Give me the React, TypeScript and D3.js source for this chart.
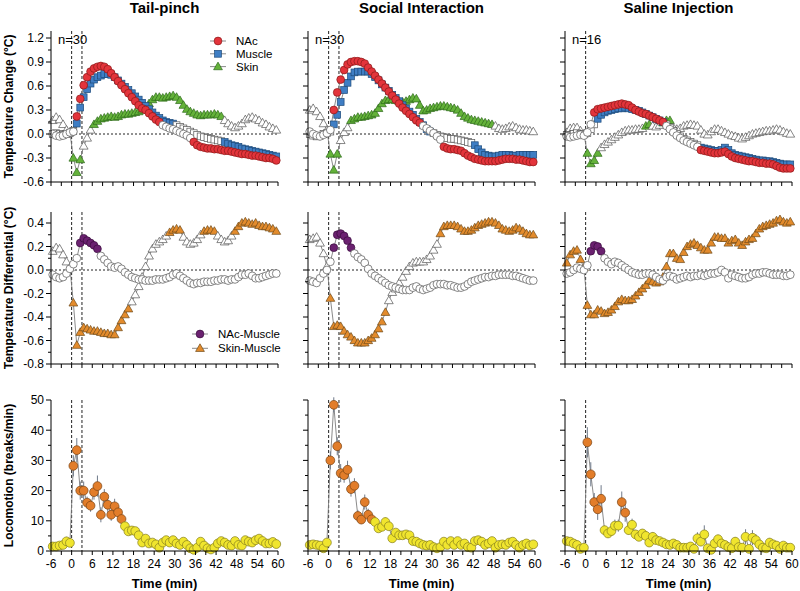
import React from 'react';
import * as d3 from 'd3';

// ---------------- DATA ----------------
const TIME = [
  -5.5, -4.5, -3.5, -2.5, -1.5, -0.5, 0.5, 1.5, 2.5, 3.5,
  4.5, 5.5, 6.5, 7.5, 8.5, 9.5, 10.5, 11.5, 12.5, 13.5,
  14.5, 15.5, 16.5, 17.5, 18.5, 19.5, 20.5, 21.5, 22.5, 23.5,
  24.5, 25.5, 26.5, 27.5, 28.5, 29.5, 30.5, 31.5, 32.5, 33.5,
  34.5, 35.5, 36.5, 37.5, 38.5, 39.5, 40.5, 41.5, 42.5, 43.5,
  44.5, 45.5, 46.5, 47.5, 48.5, 49.5, 50.5, 51.5, 52.5, 53.5,
  54.5, 55.5, 56.5, 57.5, 58.5, 59.5,
];

const CONDITIONS = ['Tail-pinch', 'Social Interaction', 'Saline Injection'];
const N_LABELS = ['n=30', 'n=30', 'n=16'];
const EVENT_TIMES = [[0, 3], [0, 3], [0]];
const X_TICKS = [-6, -3, 0, 3, 6, 9, 12, 15, 18, 21, 24, 27, 30, 33, 36, 39, 42, 45, 48, 51, 54, 57, 60];
const X_LABELS = [-6, 0, 6, 12, 18, 24, 30, 36, 42, 48, 54, 60];
const TEMP_TICKS = [-0.6, -0.3, 0, 0.3, 0.6, 0.9, 1.2];
const DIFF_TICKS = [-0.8, -0.6, -0.4, -0.2, 0, 0.2, 0.4];
const LOCO_TICKS = [0, 10, 20, 30, 40, 50];
const TEMP_LEGEND = ['NAc', 'Muscle', 'Skin'];
const DIFF_LEGEND = ['NAc-Muscle', 'Skin-Muscle'];

// Temperature change (°C) — Tail-pinch
const NAC_TP = [
  0.00, -0.02, -0.03, -0.02, 0.00, 0.02, 0.03, 0.22, 0.44, 0.61,
  0.71, 0.78, 0.82, 0.84, 0.85, 0.84, 0.81, 0.76, 0.71, 0.66,
  0.61, 0.56, 0.51, 0.46, 0.41, 0.36, 0.32, 0.30, 0.26, 0.22,
  0.18, 0.15, 0.11, 0.09, 0.07, 0.06, 0.04, 0.02, 0.00, -0.02,
  -0.05, -0.10, -0.14, -0.16, -0.17, -0.18, -0.18, -0.19, -0.19, -0.20,
  -0.21, -0.21, -0.22, -0.23, -0.24, -0.25, -0.25, -0.26, -0.27, -0.27,
  -0.28, -0.29, -0.30, -0.30, -0.31, -0.33,
];
const MUSCLE_TP = [
  0.00, 0.01, 0.00, -0.01, 0.00, 0.01, 0.04, 0.13, 0.33, 0.46,
  0.56, 0.63, 0.68, 0.71, 0.73, 0.75, 0.75, 0.74, 0.71, 0.67,
  0.63, 0.59, 0.55, 0.51, 0.47, 0.43, 0.39, 0.35, 0.31, 0.27,
  0.23, 0.20, 0.17, 0.15, 0.14, 0.13, 0.11, 0.09, 0.07, 0.05,
  0.03, 0.01, -0.01, -0.03, -0.04, -0.05, -0.06, -0.07, -0.08, -0.09,
  -0.10, -0.12, -0.14, -0.15, -0.16, -0.18, -0.19, -0.20, -0.21, -0.22,
  -0.23, -0.24, -0.25, -0.26, -0.27, -0.28,
];
const SKIN_TP = [
  0.17, 0.21, 0.18, 0.12, 0.05, 0.02, -0.30, -0.48, -0.32, -0.15,
  -0.05, 0.05, 0.12, 0.16, 0.19, 0.20, 0.21, 0.22, 0.21, 0.22,
  0.24, 0.25, 0.25, 0.26, 0.27, 0.28, 0.30, 0.33, 0.38, 0.43,
  0.46, 0.46, 0.45, 0.46, 0.47, 0.48, 0.46, 0.42, 0.36, 0.31,
  0.28, 0.26, 0.24, 0.23, 0.24, 0.24, 0.24, 0.25, 0.24, 0.22,
  0.17, 0.13, 0.10, 0.08, 0.10, 0.13, 0.18, 0.20, 0.21, 0.19,
  0.17, 0.14, 0.12, 0.09, 0.07, 0.05,
];
// Social interaction
const NAC_SI = [
  0.03, 0.00, -0.02, -0.03, -0.01, 0.01, 0.05, 0.30, 0.52, 0.68,
  0.80, 0.87, 0.90, 0.91, 0.91, 0.90, 0.88, 0.83, 0.78, 0.73,
  0.68, 0.63, 0.58, 0.53, 0.48, 0.43, 0.38, 0.33, 0.29, 0.25,
  0.21, 0.17, 0.14, 0.10, 0.07, 0.04, 0.01, -0.03, -0.07, -0.16,
  -0.18, -0.19, -0.19, -0.20, -0.21, -0.24, -0.27, -0.29, -0.31, -0.32,
  -0.33, -0.34, -0.34, -0.34, -0.34, -0.33, -0.32, -0.31, -0.31, -0.31,
  -0.32, -0.32, -0.33, -0.34, -0.35, -0.35,
];
const MUSCLE_SI = [
  0.00, -0.02, -0.03, -0.02, 0.00, 0.01, 0.03, 0.12, 0.24, 0.40,
  0.55, 0.64, 0.72, 0.77, 0.78, 0.78, 0.78, 0.78, 0.75, 0.71,
  0.67, 0.62, 0.58, 0.54, 0.49, 0.45, 0.41, 0.36, 0.32, 0.28,
  0.24, 0.19, 0.15, 0.11, 0.06, 0.03, 0.01, -0.01, -0.03, -0.04,
  -0.05, -0.06, -0.06, -0.07, -0.08, -0.09, -0.10, -0.11, -0.14, -0.19,
  -0.23, -0.26, -0.27, -0.28, -0.28, -0.27, -0.26, -0.26, -0.26, -0.27,
  -0.27, -0.26, -0.26, -0.26, -0.26, -0.26,
];
const SKIN_SI = [
  0.30, 0.32, 0.28, 0.22, 0.13, 0.05, -0.25, -0.45, -0.25, -0.08,
  0.02, 0.08, 0.17, 0.19, 0.21, 0.21, 0.22, 0.23, 0.24, 0.26,
  0.32, 0.38, 0.42, 0.43, 0.43, 0.42, 0.41, 0.40, 0.41, 0.43,
  0.45, 0.44, 0.36, 0.29, 0.30, 0.32, 0.33, 0.34, 0.35, 0.35,
  0.34, 0.33, 0.32, 0.30, 0.26, 0.22, 0.20, 0.18, 0.17, 0.16,
  0.15, 0.14, 0.13, 0.12, 0.10, 0.07, 0.06, 0.07, 0.09, 0.10,
  0.08, 0.06, 0.05, 0.05, 0.04, 0.03,
];
// Saline injection
const NAC_SAL = [
  -0.03, -0.04, -0.03, -0.02, -0.01, -0.02, 0.02, 0.12, 0.27, 0.31,
  0.32, 0.33, 0.34, 0.35, 0.36, 0.37, 0.38, 0.37, 0.36, 0.33,
  0.30, 0.28, 0.26, 0.25, 0.23, 0.21, 0.19, 0.17, 0.15, 0.10,
  0.06, 0.02, -0.02, -0.05, -0.08, -0.10, -0.12, -0.14, -0.16, -0.20,
  -0.21, -0.22, -0.23, -0.24, -0.24, -0.23, -0.22, -0.25, -0.28, -0.30,
  -0.31, -0.32, -0.33, -0.34, -0.34, -0.35, -0.36, -0.36, -0.37, -0.37,
  -0.38, -0.40, -0.42, -0.43, -0.43, -0.43,
];
const MUSCLE_SAL = [
  -0.01, -0.02, 0.00, 0.01, 0.00, 0.00, 0.01, 0.06, 0.12, 0.19,
  0.24, 0.27, 0.29, 0.30, 0.31, 0.32, 0.32, 0.33, 0.32, 0.31,
  0.30, 0.29, 0.27, 0.25, 0.23, 0.21, 0.19, 0.17, 0.15, 0.12,
  0.08, 0.04, 0.00, -0.03, -0.06, -0.08, -0.10, -0.12, -0.14, -0.17,
  -0.18, -0.19, -0.20, -0.21, -0.21, -0.20, -0.17, -0.20, -0.24, -0.26,
  -0.27, -0.28, -0.29, -0.30, -0.31, -0.32, -0.33, -0.33, -0.34, -0.34,
  -0.35, -0.36, -0.37, -0.38, -0.38, -0.38,
];
const SKIN_SAL = [
  0.02, 0.07, 0.08, 0.08, 0.04, 0.00, -0.24, -0.37, -0.33, -0.24,
  -0.17, -0.13, -0.10, -0.07, -0.04, -0.01, 0.02, 0.04, 0.05, 0.05,
  0.06, 0.06, 0.07, 0.10, 0.12, 0.10, 0.09, 0.11, 0.14, 0.17,
  0.17, 0.08, 0.06, 0.07, 0.10, 0.11, 0.12, 0.11, 0.10, 0.05,
  0.00, -0.01, 0.03, 0.06, 0.06, 0.04, 0.02, 0.00, -0.02, -0.03,
  -0.05, -0.06, -0.04, -0.02, 0.00, 0.01, 0.02, 0.03, 0.04, 0.04,
  0.05, 0.06, 0.05, 0.03, 0.01, 0.00,
];

// Temperature differential (°C)
const NM_TP = [
  -0.04, -0.06, -0.07, -0.06, -0.03, 0.01, 0.05, 0.10, 0.23, 0.27,
  0.25, 0.23, 0.21, 0.18, 0.12, 0.09, 0.06, 0.03, 0.02, 0.03,
  0.01, -0.02, -0.04, -0.06, -0.07, -0.08, -0.08, -0.09, -0.09, -0.09,
  -0.08, -0.08, -0.08, -0.07, -0.06, -0.04, -0.03, -0.05, -0.07, -0.09,
  -0.11, -0.12, -0.11, -0.11, -0.10, -0.10, -0.10, -0.09, -0.09, -0.08,
  -0.08, -0.09, -0.08, -0.08, -0.06, -0.04, -0.04, -0.03, -0.05, -0.07,
  -0.07, -0.06, -0.05, -0.04, -0.03, -0.03,
];
const SM_TP = [
  0.16, 0.19, 0.18, 0.13, 0.07, 0.02, -0.28, -0.64, -0.53, -0.49,
  -0.50, -0.51, -0.52, -0.52, -0.53, -0.54, -0.54, -0.55, -0.55, -0.49,
  -0.43, -0.38, -0.33, -0.27, -0.21, -0.14, -0.06, 0.03, 0.12, 0.18,
  0.22, 0.24, 0.26, 0.29, 0.32, 0.34, 0.35, 0.34, 0.28, 0.24,
  0.22, 0.23, 0.26, 0.30, 0.33, 0.34, 0.34, 0.33, 0.29, 0.26,
  0.24, 0.25, 0.29, 0.33, 0.37, 0.40, 0.41, 0.40, 0.39, 0.40,
  0.38, 0.37, 0.37, 0.36, 0.35, 0.33,
];
const NM_SI = [
  -0.09, -0.10, -0.11, -0.07, -0.03, 0.00, 0.07, 0.19, 0.30, 0.31,
  0.29, 0.25, 0.19, 0.14, 0.11, 0.09, 0.06, 0.01, -0.03, -0.05,
  -0.07, -0.09, -0.11, -0.13, -0.14, -0.15, -0.16, -0.17, -0.17, -0.17,
  -0.15, -0.14, -0.16, -0.17, -0.16, -0.15, -0.13, -0.12, -0.12, -0.12,
  -0.13, -0.13, -0.14, -0.15, -0.15, -0.14, -0.12, -0.10, -0.09, -0.08,
  -0.07, -0.06, -0.06, -0.05, -0.05, -0.04, -0.04, -0.04, -0.04, -0.05,
  -0.05, -0.06, -0.07, -0.08, -0.09, -0.09,
];
const SM_SI = [
  0.26, 0.27, 0.28, 0.23, 0.14, 0.03, -0.24, -0.48, -0.47, -0.48,
  -0.52, -0.55, -0.57, -0.60, -0.62, -0.62, -0.62, -0.60, -0.58, -0.55,
  -0.50, -0.44, -0.36, -0.26, -0.19, -0.16, -0.11, -0.06, -0.01, 0.03,
  0.06, 0.07, 0.07, 0.07, 0.09, 0.12, 0.17, 0.22, 0.31, 0.37,
  0.38, 0.38, 0.38, 0.37, 0.35, 0.33, 0.33, 0.34, 0.36, 0.38,
  0.39, 0.40, 0.41, 0.41, 0.40, 0.38, 0.35, 0.34, 0.33, 0.34,
  0.36, 0.35, 0.33, 0.31, 0.30, 0.30,
];
const NM_SAL = [
  -0.03, -0.02, 0.00, 0.02, 0.01, 0.00, 0.04, 0.16, 0.21, 0.20,
  0.16, 0.10, 0.07, 0.05, 0.07, 0.06, 0.04, 0.02, 0.00, -0.02,
  -0.03, -0.04, -0.04, -0.03, -0.03, -0.04, -0.06, -0.08, -0.09, -0.06,
  -0.05, -0.06, -0.08, -0.07, -0.06, -0.05, -0.06, -0.05, -0.05, -0.04,
  -0.05, -0.04, -0.03, -0.03, -0.02, 0.00, -0.02, -0.07, -0.04, -0.05,
  -0.06, -0.07, -0.07, -0.06, -0.04, -0.03, -0.03, -0.02, -0.02, -0.03,
  -0.04, -0.04, -0.04, -0.05, -0.05, -0.04,
];
const SM_SAL = [
  0.06, 0.13, 0.16, 0.17, 0.09, 0.02, -0.30, -0.38, -0.38, -0.34,
  -0.35, -0.37, -0.36, -0.34, -0.31, -0.27, -0.25, -0.26, -0.26, -0.25,
  -0.22, -0.19, -0.16, -0.13, -0.09, -0.10, -0.11, -0.10, -0.06, 0.03,
  0.14, 0.14, 0.10, 0.09, 0.15, 0.20, 0.22, 0.23, 0.21, 0.19,
  0.17, 0.17, 0.23, 0.28, 0.28, 0.27, 0.27, 0.23, 0.25, 0.26,
  0.23, 0.21, 0.24, 0.26, 0.27, 0.31, 0.35, 0.37, 0.38, 0.39,
  0.40, 0.42, 0.43, 0.41, 0.40, 0.41,
];

// Locomotion (breaks/min) and SEM
const LOCO_TP = [
  1.5, 1.5, 1.8, 2.0, 3.2, 2.7, 28.2, 33.4, 20.0, 20.0,
  16.0, 15.0, 19.5, 21.5, 12.0, 18.0, 15.3, 12.0, 14.8, 12.8,
  10.6, 8.2, 6.5, 6.8, 6.6, 5.2, 2.8, 4.1, 2.5, 2.8,
  2.2, 1.1, 2.8, 3.6, 2.8, 3.6, 2.5, 2.0, 3.1, 2.0,
  0.9, 0.4, 1.1, 3.1, 1.8, 0.9, 0.5, 1.1, 2.5, 3.3,
  2.8, 2.0, 1.8, 3.3, 2.0, 1.8, 3.6, 3.1, 2.8, 3.6,
  4.1, 3.3, 2.5, 2.5, 3.0, 2.3,
];
const SEM_TP = [
  0.8, 0.8, 0.8, 0.9, 1.5, 1.2, 3.5, 4.0, 3.0, 3.0,
  2.0, 2.0, 2.5, 3.5, 2.5, 2.5, 2.5, 2.0, 2.5, 2.0,
  1.5, 1.2, 1.2, 1.2, 1.0, 1.0, 0.8, 1.0, 0.8, 0.8,
  0.8, 0.8, 1.0, 1.2, 1.0, 1.0, 0.8, 0.8, 1.2, 0.8,
  0.8, 0.6, 0.8, 1.2, 0.8, 0.6, 0.6, 0.8, 1.0, 1.2,
  1.0, 0.8, 0.8, 1.2, 0.8, 0.8, 1.0, 1.0, 0.8, 1.0,
  1.0, 1.0, 0.8, 0.8, 1.0, 0.8,
];
const LOCO_SI = [
  2.0, 2.2, 2.0, 1.8, 0.9, 2.8, 30.0, 48.4, 34.7, 25.8,
  25.1, 26.9, 20.5, 21.6, 11.6, 10.4, 16.2, 12.0, 10.5, 9.6,
  7.5, 8.0, 9.6, 8.2, 4.2, 6.1, 5.2, 5.2, 5.5, 5.2,
  3.3, 3.1, 2.5, 2.0, 1.8, 2.0, 1.3, 0.9, 1.3, 3.1,
  2.0, 3.3, 2.0, 3.3, 2.0, 2.5, 1.3, 1.1, 3.3, 3.6,
  3.1, 2.0, 2.5, 3.3, 1.1, 2.0, 2.2, 2.0, 2.8, 3.1,
  2.0, 1.1, 2.0, 2.5, 1.8, 2.2,
];
const SEM_SI = [
  0.8, 0.8, 0.8, 0.8, 0.6, 1.0, 3.0, 2.5, 3.0, 3.0,
  2.5, 3.0, 2.5, 2.5, 2.0, 1.5, 2.5, 2.0, 1.5, 1.5,
  1.2, 1.2, 1.5, 1.2, 1.0, 1.2, 1.0, 1.0, 1.2, 1.0,
  0.8, 0.8, 0.8, 0.6, 0.6, 0.8, 0.6, 0.6, 0.8, 1.2,
  0.8, 1.2, 0.8, 1.0, 0.8, 0.8, 0.6, 0.6, 1.0, 1.0,
  1.0, 0.8, 0.8, 1.0, 0.6, 0.8, 0.8, 0.8, 1.0, 1.0,
  0.8, 0.6, 0.8, 0.8, 0.8, 0.8,
];
const LOCO_SAL = [
  3.3, 3.1, 2.5, 2.0, 0.7, 1.1, 36.0, 25.4, 16.2, 13.8,
  17.3, 6.9, 5.8, 6.6, 8.4, 8.4, 16.2, 12.7, 6.9, 8.7,
  5.5, 4.7, 5.8, 5.0, 2.8, 4.7, 3.6, 3.3, 2.8, 2.2,
  2.0, 2.5, 2.0, 1.1, 1.1, 1.1, 1.5, 0.7, 4.2, 3.1,
  5.5, 0.9, 0.4, 2.5, 3.9, 2.5, 2.0, 1.3, 0.9, 3.1,
  1.3, 1.1, 4.7, 0.7, 4.4, 3.6, 2.2, 1.1, 0.9, 2.8,
  2.2, 1.8, 0.7, 1.8, 1.1, 1.1,
];
const SEM_SAL = [
  0.8, 0.8, 0.8, 0.8, 0.6, 0.8, 5.0, 4.0, 3.0, 3.5,
  4.5, 1.5, 1.5, 1.5, 2.0, 2.0, 3.5, 3.0, 1.5, 2.0,
  1.5, 1.2, 1.5, 1.5, 1.0, 1.5, 1.2, 1.0, 1.0, 0.8,
  0.8, 1.0, 0.8, 0.6, 0.6, 0.6, 0.8, 0.6, 2.0, 1.5,
  3.0, 0.6, 0.6, 1.2, 1.5, 1.2, 1.0, 0.8, 0.6, 1.5,
  0.8, 0.8, 2.5, 0.6, 2.5, 2.0, 1.2, 0.8, 0.6, 1.5,
  1.2, 1.0, 0.6, 1.0, 0.8, 0.8,
];

// Time windows (min) of significant (coloured) points
const SIG_NAC = [[[1.5, 25.5], [35.5, 59.5]], [[1.5, 26.5], [33.5, 59.5]], [[2.5, 22.5], [33.5, 59.5]]];
const SIG_MUSCLE = [[[1.5, 29.5], [44.5, 59.5]], [[1.5, 29.5], [42.5, 59.5]], [[3.5, 22.5], [33.5, 59.5]]];
const SIG_SKIN = [[[0.5, 2.5], [6.5, 43.5]], [[0.5, 2.5], [6.5, 47.5]], [[0.5, 3.5], [17.5, 18.5], [22.5, 24.5]]];
const SIG_NM = [[[2.5, 7.5]], [[1.5, 6.5]], [[1.5, 4.5]]];
const SIG_SM = [[[0.5, 16.5], [28.5, 31.5], [38.5, 41.5], [47.5, 59.5]], [[0.5, 16.5], [32.5, 59.5]], [[-5.5, 59.5]]];
const SIG_LOCO = [[[0.5, 14.5]], [[0.5, 12.5]], [[0.5, 4.5], [10.5, 11.5]]];

const NAC = [NAC_TP, NAC_SI, NAC_SAL];
const MUSCLE = [MUSCLE_TP, MUSCLE_SI, MUSCLE_SAL];
const SKIN = [SKIN_TP, SKIN_SI, SKIN_SAL];
const NM = [NM_TP, NM_SI, NM_SAL];
const SM = [SM_TP, SM_SI, SM_SAL];
const LOCO = [LOCO_TP, LOCO_SI, LOCO_SAL];
const SEM = [SEM_TP, SEM_SI, SEM_SAL];

// ---------------- STYLE ----------------
const FONT = "'Liberation Sans', Arial, Helvetica, sans-serif";
const WHITE = { fill: '#ffffff', stroke: '#555555' };
const STY = {
  nac: { fill: '#e3343b', stroke: '#8b1a1a' },
  muscle: { fill: '#3f7ec4', stroke: '#1d4a7a' },
  skin: { fill: '#64b23a', stroke: '#2d6a1a' },
  nm: { fill: '#6b2170', stroke: '#3a0d3d' },
  sm: { fill: '#e38b2c', stroke: '#6e4a1a' },
  locoSig: { fill: '#e27d2a', stroke: '#7a4412' },
  locoNs: { fill: '#f0e52e', stroke: '#857e1e' },
};

const inRanges = (t: number, ranges: number[][]) => ranges.some(([a, b]) => t >= a - 1e-6 && t <= b + 1e-6);
const triPath = (area: number) => d3.symbol(d3.symbolTriangle, area)() as string;

type Shape = 'circle' | 'square' | 'triangle';

function Marker({ shape, x, y, fill, stroke, size }: { shape: Shape; x: number; y: number; fill: string; stroke: string; size: number }) {
  if (shape === 'circle') return <circle cx={x} cy={y} r={size} fill={fill} stroke={stroke} strokeWidth={0.7} />;
  if (shape === 'square') return <rect x={x - size} y={y - size} width={2 * size} height={2 * size} fill={fill} stroke={stroke} strokeWidth={0.7} />;
  return <path d={triPath(size * size * 2.2)} transform={`translate(${x},${y + 0.6})`} fill={fill} stroke={stroke} strokeWidth={0.7} />;
}

type SeriesDef = { values: number[]; sig: number[][]; shape: Shape; size: number; on: { fill: string; stroke: string }; off: { fill: string; stroke: string }; sem?: number[] };

const COL_X: [number, number][] = [[51, 278], [308, 535], [565, 792]];
const ROWS = [
  { domain: [-0.6, 1.2], range: [182, 38], top: 31, ticks: TEMP_TICKS, minor: 0.15, fmt: (v: number) => v.toFixed(1), zero: true },
  { domain: [-0.8, 0.4], range: [364, 223], top: 212, ticks: DIFF_TICKS, minor: 0.1, fmt: (v: number) => v.toFixed(1), zero: true },
  { domain: [0, 50], range: [551, 400], top: 400, ticks: LOCO_TICKS, minor: 5, fmt: (v: number) => String(v), zero: false },
];

const CIRC = 3.9;
const SQ = 3.4;
const TRI = 3.9;

function Panel({ r, c }: { r: number; c: number }) {
  const row = ROWS[r];
  const x = d3.scaleLinear().domain([-6, 60]).range(COL_X[c]);
  const y = d3.scaleLinear().domain(row.domain).range(row.range);
  const x0 = x(-6), x1 = x(60), yb = row.range[0];

  let series: SeriesDef[] = [];
  if (r === 0) {
    series = [
      { values: SKIN[c], sig: SIG_SKIN[c], shape: 'triangle', size: TRI, on: STY.skin, off: WHITE },
      { values: MUSCLE[c], sig: SIG_MUSCLE[c], shape: 'square', size: SQ, on: STY.muscle, off: WHITE },
      { values: NAC[c], sig: SIG_NAC[c], shape: 'circle', size: CIRC, on: STY.nac, off: WHITE },
    ];
  } else if (r === 1) {
    series = [
      { values: SM[c], sig: SIG_SM[c], shape: 'triangle', size: TRI, on: STY.sm, off: WHITE },
      { values: NM[c], sig: SIG_NM[c], shape: 'circle', size: CIRC, on: STY.nm, off: WHITE },
    ];
  } else {
    series = [{ values: LOCO[c], sig: SIG_LOCO[c], shape: 'circle', size: 4.4, on: STY.locoSig, off: STY.locoNs, sem: SEM[c] }];
  }

  const line = d3.line<number>().x((_, i) => x(TIME[i])).y((v) => y(v));
  const minorTicks = d3.range(row.domain[0], row.domain[1] + 1e-9, row.minor).filter((v) => !row.ticks.some((t) => Math.abs(t - v) < 1e-6));

  return (
    <g>
      {EVENT_TIMES[c].map((t) => (
        <line key={'ev' + t} x1={x(t)} x2={x(t)} y1={row.top} y2={yb} stroke="#222" strokeWidth={1} strokeDasharray="3,2" />
      ))}
      {row.zero && <line x1={x0} x2={x1} y1={y(0)} y2={y(0)} stroke="#222" strokeWidth={1} strokeDasharray="2,2" />}
      {series.map((s, k) => (
        <path key={'l' + k} d={line(s.values) as string} fill="none" stroke="#7d7d7d" strokeWidth={0.9} />
      ))}
      {series.map((s, k) =>
        s.sem ? (
          <g key={'e' + k}>
            {s.values.map((v, i) => (
              <line key={i} x1={x(TIME[i])} x2={x(TIME[i])} y1={y(Math.max(0, v - s.sem![i]))} y2={y(v + s.sem![i])} stroke="#6f7a8a" strokeWidth={1} />
            ))}
          </g>
        ) : null
      )}
      {series.map((s, k) => (
        <g key={'m' + k}>
          {s.values.map((v, i) => {
            const st = inRanges(TIME[i], s.sig) ? s.on : s.off;
            return <Marker key={i} shape={s.shape} x={x(TIME[i])} y={y(v)} fill={st.fill} stroke={st.stroke} size={s.size} />;
          })}
        </g>
      ))}
      <line x1={x0} x2={x0} y1={row.top} y2={yb} stroke="#000" strokeWidth={1} />
      <line x1={x0} x2={x1} y1={yb} y2={yb} stroke="#000" strokeWidth={1} />
      {row.ticks.map((t) => (
        <line key={'yt' + t} x1={x0 - 5} x2={x0} y1={y(t)} y2={y(t)} stroke="#000" strokeWidth={1} />
      ))}
      {minorTicks.map((t) => (
        <line key={'ym' + t} x1={x0 - 3} x2={x0} y1={y(t)} y2={y(t)} stroke="#000" strokeWidth={1} />
      ))}
      {X_TICKS.map((t) => (
        <line key={'xt' + t} x1={x(t)} x2={x(t)} y1={yb} y2={yb + 4} stroke="#000" strokeWidth={1} />
      ))}
      {c === 0 &&
        row.ticks.map((t) => (
          <text key={'yl' + t} x={x0 - 7} y={y(t)} dy="0.36em" textAnchor="end" fontSize={12} fill="#000">
            {row.fmt(t)}
          </text>
        ))}
      {r === 2 &&
        X_LABELS.map((t) => (
          <text key={'xl' + t} x={x(t)} y={yb + 17} textAnchor="middle" fontSize={12} fill="#000">
            {String(t)}
          </text>
        ))}
      {r === 2 && (
        <text x={(x0 + x1) / 2} y={588} textAnchor="middle" fontSize={13} fontWeight="bold" fill="#000">
          Time (min)
        </text>
      )}
      {r === 0 && (
        <text x={x0 + 7} y={44} fontSize={13} fill="#000">
          {N_LABELS[c]}
        </text>
      )}
      {r === 0 && (
        <text x={(x0 + x1) / 2} y={13} textAnchor="middle" fontSize={15} fontWeight="bold" fill="#000">
          {CONDITIONS[c]}
        </text>
      )}
    </g>
  );
}

function LegendItem({ x, y, label, shape, sty }: { x: number; y: number; label: string; shape: Shape; sty: { fill: string; stroke: string } }) {
  return (
    <g>
      <line x1={x - 8} x2={x + 8} y1={y} y2={y} stroke="#7d7d7d" strokeWidth={0.9} />
      <Marker shape={shape} x={x} y={y} fill={sty.fill} stroke={sty.stroke} size={shape === 'square' ? SQ : CIRC} />
      <text x={x + 18} y={y} dy="0.36em" fontSize={11.5} fill="#000">
        {label}
      </text>
    </g>
  );
}

export default function App() {
  const yLabels = [
    { text: 'Temperature Change (°C)', cy: (31 + 182) / 2 },
    { text: 'Temperature Differential (°C)', cy: (212 + 364) / 2 },
    { text: 'Locomotion (breaks/min)', cy: (400 + 551) / 2 },
  ];
  const shapes: Shape[] = ['circle', 'square', 'triangle'];
  const tempSty = [STY.nac, STY.muscle, STY.skin];
  const diffShapes: Shape[] = ['circle', 'triangle'];
  const diffSty = [STY.nm, STY.sm];
  return (
    <svg width={800} height={591} style={{ position: 'absolute', left: 0, top: 0, background: '#fff' }} fontFamily={FONT}>
      <rect x={0} y={0} width={800} height={591} fill="#fff" />
      {[0, 1, 2].map((r) => [0, 1, 2].map((c) => <Panel key={`${r}-${c}`} r={r} c={c} />))}
      {yLabels.map((l) => (
        <text key={l.text} transform={`translate(13,${l.cy}) rotate(-90)`} textAnchor="middle" fontSize={12} fontWeight="bold" fill="#000">
          {l.text}
        </text>
      ))}
      {TEMP_LEGEND.map((lab, i) => (
        <LegendItem key={lab} x={218} y={41 + i * 12.8} label={lab} shape={shapes[i]} sty={tempSty[i]} />
      ))}
      {DIFF_LEGEND.map((lab, i) => (
        <LegendItem key={lab} x={200} y={334 + i * 14.3} label={lab} shape={diffShapes[i]} sty={diffSty[i]} />
      ))}
    </svg>
  );
}
